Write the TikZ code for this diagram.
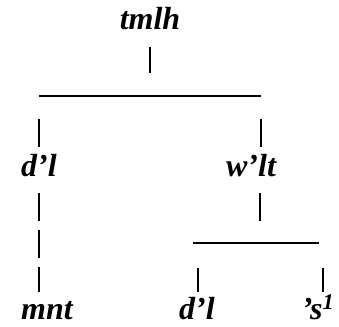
\documentclass[tikz,border=0pt]{standalone}
\usepackage{fontspec}
\setmainfont{Liberation Serif}
\usepackage{tikz}
\usetikzlibrary{positioning,calc}

\tikzset{
  word/.style={anchor=base,inner sep=0pt,font=\fontsize{32}{34}\selectfont\bfseries\itshape},
  stem/.style={line width=1.6pt,line cap=butt}
}

\begin{document}
\begin{tikzpicture}[x=1pt,y=1pt]
\useasboundingbox (0,0) rectangle (339,326);
\node[word] (tmlh) at (150,296) {tmlh};
\node[word] (dl) at (39,149) {d’l};
\node[word] (wlt) at (251,149) {w’lt};
\node[word] (mnt) at (47,7) {mnt};
\node[word] (dlb) at (197,7) {d’l};
\node[word] (s1) at (318,7) {’s\textsuperscript{1}};
\coordinate (barL) at (39,230);
\coordinate (barR) at (261,230);
\coordinate (subL) at (193,83);
\coordinate (subR) at (319,83);
\draw[stem] (150,279) -- (150,253);
\draw[stem] (barL) -- (barR);
\draw[stem] ($(barL)+(0,-23)$) -- ($(barL)+(0,-51)$);
\draw[stem] ($(barR)+(0,-23)$) -- ($(barR)+(0,-51)$);
\draw[stem,dash pattern=on 28pt off 9pt] (39,133) -- (39,34);
\draw[stem] (260,133) -- (260,105);
\draw[stem] (subL) -- (subR);
\draw[stem] (198,58) -- (198,34);
\draw[stem] (323,58) -- (323,34);
\end{tikzpicture}
\end{document}
